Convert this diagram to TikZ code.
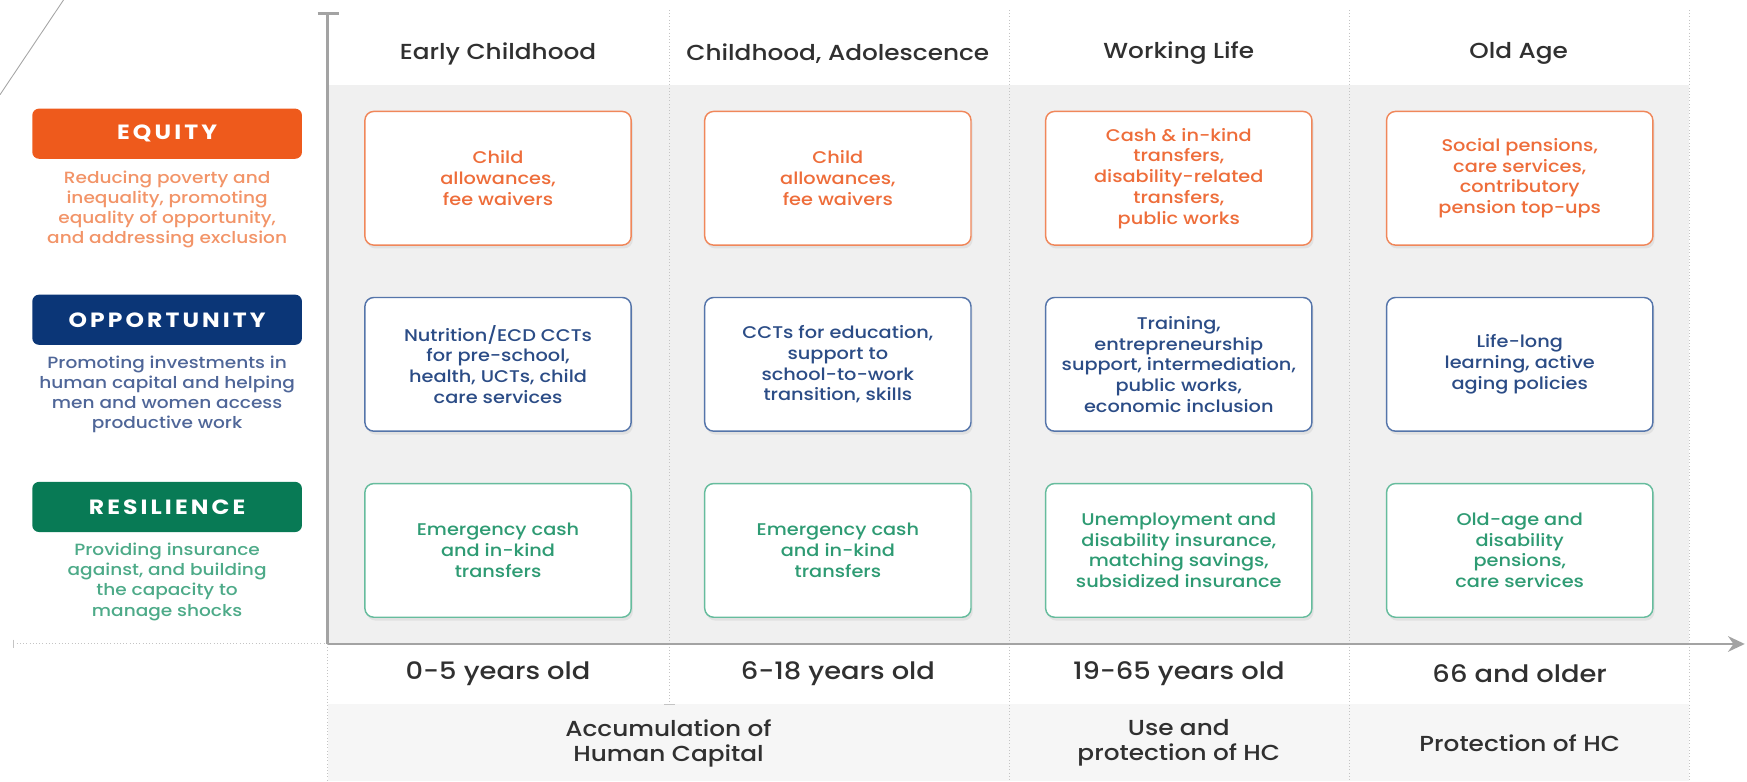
\documentclass[tikz,border=0pt]{standalone}
\usepackage{fontspec}
\setmainfont{Poppins}[FakeStretch=1.14]
\newfontfamily\medfont{Poppins Medium}[FakeStretch=1.14]
\usetikzlibrary{shadows,arrows.meta}
\definecolor{eqfill}{HTML}{EE5A1C}
\definecolor{opfill}{HTML}{0B3677}
\definecolor{refill}{HTML}{087A55}
\definecolor{eqline}{HTML}{F0875A}
\definecolor{opline}{HTML}{5575AA}
\definecolor{reline}{HTML}{66BC9D}
\definecolor{eqtext}{HTML}{EE6D3A}
\definecolor{optext}{HTML}{2B4C86}
\definecolor{retext}{HTML}{2E9B73}
\definecolor{eqdesc}{HTML}{F29468}
\definecolor{opdesc}{HTML}{4F6698}
\definecolor{redesc}{HTML}{4DAA88}
\definecolor{axisgray}{HTML}{A3A3A3}
\definecolor{panel}{HTML}{F0F0F0}
\definecolor{panelb}{HTML}{F6F6F6}
\definecolor{dotgray}{HTML}{C4C4C4}
\definecolor{headtext}{HTML}{303030}
\begin{document}
\begin{tikzpicture}[x=1pt,y=-1pt,
  cell/.style={draw, rounded corners=8pt, fill=white, minimum width=239pt, minimum height=120pt,
    align=center, line width=1.3pt, font=\medfont\fontsize{15.2}{18.6}\selectfont,
    drop shadow={opacity=0.13, shadow xshift=1.5pt, shadow yshift=-3pt}},
  eqcell/.style={cell, draw=eqline, text=eqtext},
  opcell/.style={cell, draw=opline, text=optext},
  recell/.style={cell, draw=reline, text=retext},
  tag/.style={rounded corners=6pt, minimum width=242pt, minimum height=45pt, text=white,
    font=\fontsize{18.5}{20}\bfseries\addfontfeatures{LetterSpace=15}},
  desc/.style={align=center, font=\medfont\fontsize{14.6}{18.2}\selectfont},
  head/.style={text=headtext, font=\medfont\fontsize{19.5}{22}\selectfont},
  age/.style={text=headtext, font=\medfont\fontsize{21.5}{24}\selectfont},
  phase/.style={text=headtext, align=center, font=\medfont\fontsize{19.5}{22.5}\selectfont},
  dotline/.style={draw=dotgray, line width=0.9pt, dotted},
  axisline/.style={draw=axisgray, line width=2.6pt}
]
\useasboundingbox (0,0) rectangle (1568,701);

% panels
\fill[panel] (294,76) rectangle (1516,578);
\fill[panelb] (294,632) rectangle (1516,701);

% dotted column separators
\coordinate (s1t) at (601,9);   \coordinate (s1b) at (601,632);
\coordinate (s2t) at (906,9);   \coordinate (s2b) at (906,701);
\coordinate (s3t) at (1211,9);  \coordinate (s3b) at (1211,701);
\coordinate (s4t) at (1516,9);  \coordinate (s4b) at (1516,701);
\coordinate (s0t) at (294,578); \coordinate (s0b) at (294,701);
\draw[dotline] (s1t) -- (s1b);
\draw[dotgray, line width=1pt] (596,632) -- (606,632);
\draw[dotline] (s2t) -- (s2b);
\draw[dotline] (s3t) -- (s3b);
\draw[dotline] (s4t) -- (s4b);
\draw[dotline] (s0t) -- (s0b);

% diagonal decoration
\draw[gray!70, line width=0.8pt] (0,85) -- (57,0);

% axes
\coordinate (axtop) at (294,12);
\coordinate (origin) at (294,578);
\coordinate (axend) at (1566,578);
\coordinate (axleft) at (12,578);
\draw[dotline] (axleft) -- (origin);
\draw[dotgray, line width=1pt] (12,574) -- (12,582);
\draw[axisline] (origin) -- (axtop);
\draw[axisline] (285,12) -- (304,12);
\draw[axisline, -{Stealth[length=15pt,width=14pt]}] (origin) -- (axend);

% headers
\node[head] (h1) at (447,48) {Early Childhood};
\node[head] (h2) at (752,48) {Childhood, Adolescence};
\node[head] (h3) at (1058,48) {Working Life};
\node[head] (h4) at (1363,48) {Old Age};

% left tags
\node[tag, fill=eqfill] (teq) at (150,120) {EQUITY};
\node[desc, text=eqdesc] (deq) at (150,188) {Reducing poverty and\\inequality, promoting\\equality of opportunity,\\and addressing exclusion};
\node[tag, fill=opfill] (top) at (150,287) {OPPORTUNITY};
\node[desc, text=opdesc] (dop) at (150,354) {Promoting investments in\\human capital and helping\\men and women access\\productive work};
\node[tag, fill=refill] (tre) at (150,455) {RESILIENCE};
\node[desc, text=redesc] (dre) at (150,522) {Providing insurance\\against, and building\\the capacity to\\manage shocks};

% equity row
\node[eqcell] (e1) at (447,160) {Child\\allowances,\\fee waivers};
\node[eqcell] (e2) at (752,160) {Child\\allowances,\\fee waivers};
\node[eqcell] (e3) at (1058,160) {Cash \& in-kind\\transfers,\\disability-related\\transfers,\\public works};
\node[eqcell] (e4) at (1364,160) {Social pensions,\\care services,\\contributory\\pension top-ups};

% opportunity row
\node[opcell] (o1) at (447,327) {Nutrition/ECD CCTs\\for pre-school,\\health, UCTs, child\\care services};
\node[opcell] (o2) at (752,327) {CCTs for education,\\support to\\school-to-work\\transition, skills};
\node[opcell] (o3) at (1058,327) {Training,\\entrepreneurship\\support, intermediation,\\public works,\\economic inclusion};
\node[opcell] (o4) at (1364,327) {Life-long\\learning, active\\aging policies};

% resilience row
\node[recell] (r1) at (447,494) {Emergency cash\\and in-kind\\transfers};
\node[recell] (r2) at (752,494) {Emergency cash\\and in-kind\\transfers};
\node[recell] (r3) at (1058,494) {Unemployment and\\disability insurance,\\matching savings,\\subsidized insurance};
\node[recell] (r4) at (1364,494) {Old-age and\\disability\\pensions,\\care services};

% ages
\node[age] (a1) at (447,605) {0-5 years old};
\node[age] (a2) at (752,605) {6-18 years old};
\node[age] (a3) at (1058,605) {19-65 years old};
\node[age] (a4) at (1364,605) {66 and older};

% phases
\node[phase] (p1) at (600,667) {Accumulation of\\Human Capital};
\node[phase] (p2) at (1058,667) {Use and\\protection of HC};
\node[phase] (p3) at (1364,667) {Protection of HC};
\end{tikzpicture}
\end{document}
